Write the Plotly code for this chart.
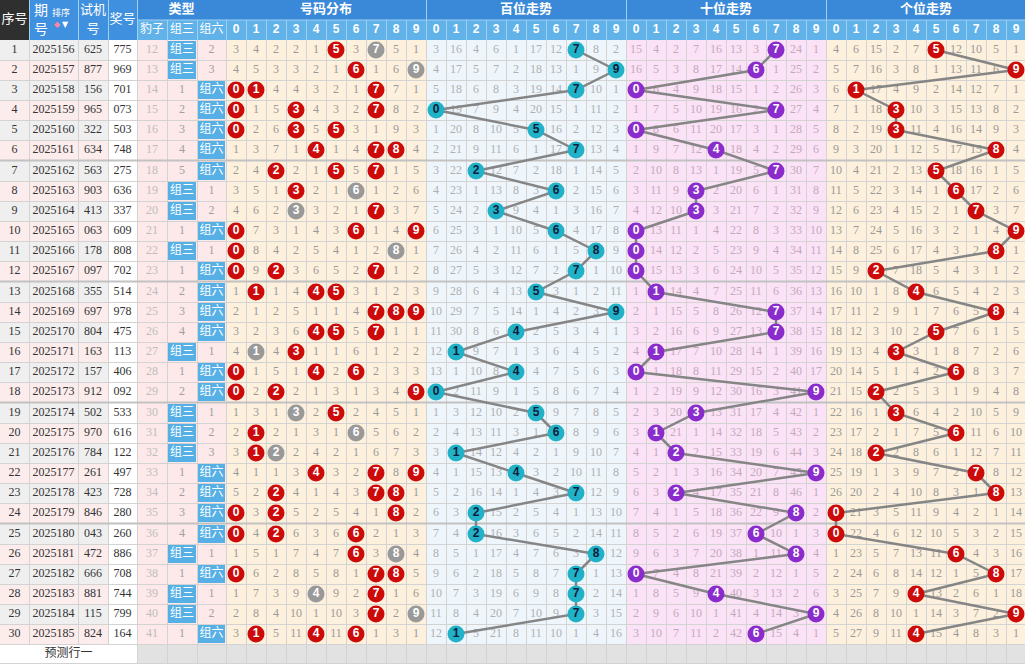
import plotly.graph_objects as go

# ---------------- data ----------------
row_no = list(range(1, 31))
periods = ["2025156", "2025157", "2025158", "2025159", "2025160", "2025161", "2025162", "2025163",
           "2025164", "2025165", "2025166", "2025167", "2025168", "2025169", "2025170", "2025171",
           "2025172", "2025173", "2025174", "2025175", "2025176", "2025177", "2025178", "2025179",
           "2025180", "2025181", "2025182", "2025183", "2025184", "2025185"]
test_nums = ["625", "877", "156", "965", "322", "634", "563", "903", "413", "063", "178", "097",
             "355", "697", "804", "163", "157", "912", "502", "970", "784", "261", "423", "846",
             "043", "472", "666", "881", "115", "824"]
draw_nums = ["775", "969", "701", "073", "503", "748", "275", "636", "337", "609", "808", "702",
             "514", "978", "475", "113", "406", "092", "533", "616", "122", "497", "728", "280",
             "260", "886", "708", "744", "799", "164"]
baozi_miss = [12, 13, 14, 15, 16, 17, 18, 19, 20, 21, 22, 23, 24, 25, 26, 27, 28, 29, 30, 31,
              32, 33, 34, 35, 36, 37, 38, 39, 40, 41]
# 0 = hit in that period
zusan_miss = [0, 0, 1, 2, 3, 4, 5, 0, 0, 1, 0, 1, 2, 3, 4, 0, 1, 2, 0, 0, 0, 1, 2, 3, 4, 0, 1, 0, 0, 1]
zuliu_miss = [2, 3, 0, 0, 0, 0, 0, 1, 2, 0, 1, 0, 0, 0, 0, 1, 0, 0, 1, 2, 3, 0, 0, 0, 0, 1, 0, 1, 2, 0]

dist_miss = [
    [3, 4, 2, 2, 1, 0, 3, 0, 5, 1], [4, 5, 3, 3, 2, 1, 0, 1, 6, 0], [0, 0, 4, 4, 3, 2, 1, 0, 7, 1],
    [0, 1, 5, 0, 4, 3, 2, 0, 8, 2], [0, 2, 6, 0, 5, 0, 3, 1, 9, 3], [1, 3, 7, 1, 0, 1, 4, 0, 0, 4],
    [2, 4, 0, 2, 1, 0, 5, 0, 1, 5], [3, 5, 1, 0, 2, 1, 0, 1, 2, 6], [4, 6, 2, 0, 3, 2, 1, 0, 3, 7],
    [0, 7, 3, 1, 4, 3, 0, 1, 4, 0], [0, 8, 4, 2, 5, 4, 1, 2, 0, 1], [0, 9, 0, 3, 6, 5, 2, 0, 1, 2],
    [1, 0, 1, 4, 0, 0, 3, 1, 2, 3], [2, 1, 2, 5, 1, 1, 4, 0, 0, 0], [3, 2, 3, 6, 0, 0, 5, 0, 1, 1],
    [4, 0, 4, 0, 1, 1, 6, 1, 2, 2], [0, 1, 5, 1, 0, 2, 0, 2, 3, 3], [0, 2, 0, 2, 1, 3, 1, 3, 4, 0],
    [1, 3, 1, 0, 2, 0, 2, 4, 5, 1], [2, 0, 2, 1, 3, 1, 0, 5, 6, 2], [3, 0, 0, 2, 4, 2, 1, 6, 7, 3],
    [4, 1, 1, 3, 0, 3, 2, 0, 8, 0], [5, 2, 0, 4, 1, 4, 3, 0, 0, 1], [0, 3, 0, 5, 2, 5, 4, 1, 0, 2],
    [0, 4, 0, 6, 3, 6, 0, 2, 1, 3], [1, 5, 1, 7, 4, 7, 0, 3, 0, 4], [0, 6, 2, 8, 5, 8, 1, 0, 0, 5],
    [1, 7, 3, 9, 0, 9, 2, 0, 1, 6], [2, 8, 4, 10, 1, 10, 3, 0, 2, 0], [3, 0, 5, 11, 0, 11, 0, 1, 3, 1],
]
bai_miss = [
    [3, 16, 4, 6, 1, 17, 12, 0, 8, 2], [4, 17, 5, 7, 2, 18, 13, 1, 9, 0], [5, 18, 6, 8, 3, 19, 14, 0, 10, 1],
    [0, 19, 7, 9, 4, 20, 15, 1, 11, 2], [1, 20, 8, 10, 5, 0, 16, 2, 12, 3], [2, 21, 9, 11, 6, 1, 17, 0, 13, 4],
    [3, 22, 0, 12, 7, 2, 18, 1, 14, 5], [4, 23, 1, 13, 8, 3, 0, 2, 15, 6], [5, 24, 2, 0, 9, 4, 1, 3, 16, 7],
    [6, 25, 3, 1, 10, 5, 0, 4, 17, 8], [7, 26, 4, 2, 11, 6, 1, 5, 0, 9], [8, 27, 5, 3, 12, 7, 2, 0, 1, 10],
    [9, 28, 6, 4, 13, 0, 3, 1, 2, 11], [10, 29, 7, 5, 14, 1, 4, 2, 3, 0], [11, 30, 8, 6, 0, 2, 5, 3, 4, 1],
    [12, 0, 9, 7, 1, 3, 6, 4, 5, 2], [13, 1, 10, 8, 0, 4, 7, 5, 6, 3], [0, 2, 11, 9, 1, 5, 8, 6, 7, 4],
    [1, 3, 12, 10, 2, 0, 9, 7, 8, 5], [2, 4, 13, 11, 3, 1, 0, 8, 9, 6], [3, 0, 14, 12, 4, 2, 1, 9, 10, 7],
    [4, 1, 15, 13, 0, 3, 2, 10, 11, 8], [5, 2, 16, 14, 1, 4, 3, 0, 12, 9], [6, 3, 0, 15, 2, 5, 4, 1, 13, 10],
    [7, 4, 0, 16, 3, 6, 5, 2, 14, 11], [8, 5, 1, 17, 4, 7, 6, 3, 0, 12], [9, 6, 2, 18, 5, 8, 7, 0, 1, 13],
    [10, 7, 3, 19, 6, 9, 8, 0, 2, 14], [11, 8, 4, 20, 7, 10, 9, 0, 3, 15], [12, 0, 5, 21, 8, 11, 10, 1, 4, 16],
]
shi_miss = [
    [15, 4, 2, 7, 16, 13, 3, 0, 24, 1], [16, 5, 3, 8, 17, 14, 0, 1, 25, 2], [0, 6, 4, 9, 18, 15, 1, 2, 26, 3],
    [1, 7, 5, 10, 19, 16, 2, 0, 27, 4], [0, 8, 6, 11, 20, 17, 3, 1, 28, 5], [1, 9, 7, 12, 0, 18, 4, 2, 29, 6],
    [2, 10, 8, 13, 1, 19, 5, 0, 30, 7], [3, 11, 9, 0, 2, 20, 6, 1, 31, 8], [4, 12, 10, 0, 3, 21, 7, 2, 32, 9],
    [0, 13, 11, 1, 4, 22, 8, 3, 33, 10], [0, 14, 12, 2, 5, 23, 9, 4, 34, 11], [0, 15, 13, 3, 6, 24, 10, 5, 35, 12],
    [1, 0, 14, 4, 7, 25, 11, 6, 36, 13], [2, 1, 15, 5, 8, 26, 12, 0, 37, 14], [3, 2, 16, 6, 9, 27, 13, 0, 38, 15],
    [4, 0, 17, 7, 10, 28, 14, 1, 39, 16], [0, 1, 18, 8, 11, 29, 15, 2, 40, 17], [1, 2, 19, 9, 12, 30, 16, 3, 41, 0],
    [2, 3, 20, 0, 13, 31, 17, 4, 42, 1], [3, 0, 21, 1, 14, 32, 18, 5, 43, 2], [4, 1, 0, 2, 15, 33, 19, 6, 44, 3],
    [5, 2, 1, 3, 16, 34, 20, 7, 45, 0], [6, 3, 0, 4, 17, 35, 21, 8, 46, 1], [7, 4, 1, 5, 18, 36, 22, 9, 0, 2],
    [8, 5, 2, 6, 19, 37, 0, 10, 1, 3], [9, 6, 3, 7, 20, 38, 1, 11, 0, 4], [0, 7, 4, 8, 21, 39, 2, 12, 1, 5],
    [1, 8, 5, 9, 0, 40, 3, 13, 2, 6], [2, 9, 6, 10, 1, 41, 4, 14, 3, 0], [3, 10, 7, 11, 2, 42, 0, 15, 4, 1],
]
ge_miss = [
    [4, 6, 15, 2, 7, 0, 12, 10, 5, 1], [5, 7, 16, 3, 8, 1, 13, 11, 6, 0], [6, 0, 17, 4, 9, 2, 14, 12, 7, 1],
    [7, 1, 18, 0, 10, 3, 15, 13, 8, 2], [8, 2, 19, 0, 11, 4, 16, 14, 9, 3], [9, 3, 20, 1, 12, 5, 17, 15, 0, 4],
    [10, 4, 21, 2, 13, 0, 18, 16, 1, 5], [11, 5, 22, 3, 14, 1, 0, 17, 2, 6], [12, 6, 23, 4, 15, 2, 1, 0, 3, 7],
    [13, 7, 24, 5, 16, 3, 2, 1, 4, 0], [14, 8, 25, 6, 17, 4, 3, 2, 0, 1], [15, 9, 0, 7, 18, 5, 4, 3, 1, 2],
    [16, 10, 1, 8, 0, 6, 5, 4, 2, 3], [17, 11, 2, 9, 1, 7, 6, 5, 0, 4], [18, 12, 3, 10, 2, 0, 7, 6, 1, 5],
    [19, 13, 4, 0, 3, 1, 8, 7, 2, 6], [20, 14, 5, 1, 4, 2, 0, 8, 3, 7], [21, 15, 0, 2, 5, 3, 1, 9, 4, 8],
    [22, 16, 1, 0, 6, 4, 2, 10, 5, 9], [23, 17, 2, 1, 7, 5, 0, 11, 6, 10], [24, 18, 0, 2, 8, 6, 1, 12, 7, 11],
    [25, 19, 1, 3, 9, 7, 2, 0, 8, 12], [26, 20, 2, 4, 10, 8, 3, 1, 0, 13], [0, 21, 3, 5, 11, 9, 4, 2, 1, 14],
    [0, 22, 4, 6, 12, 10, 5, 3, 2, 15], [1, 23, 5, 7, 13, 11, 0, 4, 3, 16], [2, 24, 6, 8, 14, 12, 1, 5, 0, 17],
    [3, 25, 7, 9, 0, 13, 2, 6, 1, 18], [4, 26, 8, 10, 1, 14, 3, 7, 2, 0], [5, 27, 9, 11, 0, 15, 4, 8, 3, 1],
]
digit_labels = ["0", "1", "2", "3", "4", "5", "6", "7", "8", "9"]
section_titles = ["号码分布", "百位走势", "十位走势", "个位走势"]
type_labels = ["豹子", "组三", "组六"]
predict_label = "预测行一"

# ---------------- geometry ----------------
FW, FH = 1025, 664
LEFT = [0, 29, 78, 108, 137, 167, 197, 226]
CW = 20
N = len(periods)


def row_top(i):
    return 40 + i * 20 + i // 6


def row_mid(i):
    return row_top(i) + 10


def lmid(k):
    return (LEFT[k] + LEFT[k + 1]) / 2


def dmid(sec, d):
    return 226 + (sec * 10 + d) * CW + CW / 2


BODY_B = row_top(N - 1) + 20

CJK = "Noto Sans CJK SC"
NUMF = "Liberation Serif, Noto Sans CJK SC"
BOLDF = "Liberation Sans, Arial"

shapes = []


def rect(x0, y0, x1, y1, fill):
    shapes.append(dict(type="rect", xref="x", yref="y", x0=x0, y0=y0, x1=x1, y1=y1,
                       fillcolor=fill, line=dict(width=0), layer="below"))


# body backgrounds
for i in range(N):
    t = row_top(i)
    alt = "#efefef" if i % 2 == 0 else "#fcecec"
    rect(0, t, 108, t + 21, alt)
    rect(108, t, 137, t + 21, "#ffffff")
rect(137, 40, 226, BODY_B, "#fde9e9")
rect(226, 40, 426, BODY_B, "#fdf0dc")
rect(426, 40, 626, BODY_B, "#eef6fc")
rect(626, 40, 826, BODY_B, "#fbe2f6")
rect(826, 40, FW, BODY_B, "#fdf0dc")
# prediction row
rect(0, BODY_B, 137, FH, "#ffffff")
rect(137, BODY_B, FW, FH, "#e2e2e2")
# header
rect(0, 0, 29, 40, "#2f2f2f")
rect(29, 0, 137, 40, "#3f90de")
rect(137, 0, FW, 20, "#3a89d8")
rect(137, 20, FW, 40, "#62b2ea")
# group highlight cells
for i in range(N):
    t = row_top(i)
    if zusan_miss[i] == 0:
        rect(168, t + 1, 196, t + 19, "#56b0e6")
    if zuliu_miss[i] == 0:
        rect(198, t + 1, 225, t + 19, "#56b0e6")

traces = []

# grid lines (body)
gx, gy = [], []
for x in LEFT[1:4]:
    gx += [x + 0.5, x + 0.5, None]
    gy += [40, BODY_B, None]
vedges = LEFT[4:] + [226 + CW * k for k in range(1, 40)]
for x in vedges:
    gx += [x + 0.5, x + 0.5, None]
    gy += [40, FH, None]
for i in range(N):
    y = row_top(i) + 20 + 0.5
    gx += [0, FW, None]
    gy += [y, y, None]
gx += [0, FW, None]
gy += [FH - 0.5, FH - 0.5, None]
traces.append(go.Scatter(x=gx, y=gy, mode="lines", line=dict(color="#d3d3d3", width=1),
                         hoverinfo="skip", showlegend=False))
# header grid
hx, hy = [], []
for x in [29, 78, 108, 137, 426, 626, 826]:
    hx += [x + 0.5, x + 0.5, None]
    hy += [0, 40, None]
for x in [167, 197] + [226 + CW * k for k in range(0, 40)]:
    hx += [x + 0.5, x + 0.5, None]
    hy += [20, 40, None]
hx += [137, FW, None]
hy += [20, 20, None]
traces.append(go.Scatter(x=hx, y=hy, mode="lines", line=dict(color="#9fd0f2", width=1),
                         hoverinfo="skip", showlegend=False))
# block separators
sx, sy = [], []
for i in (6, 12, 18, 24):
    y = row_top(i) - 0.5
    sx += [0, FW, None]
    sy += [y, y, None]
traces.append(go.Scatter(x=sx, y=sy, mode="lines", line=dict(color="#c2c2c2", width=2),
                         hoverinfo="skip", showlegend=False))


def text_trace(xs, ys, texts, color, size=12, family=NUMF, weight="normal"):
    traces.append(go.Scatter(x=xs, y=ys, text=texts, mode="text", textposition="middle center",
                             textfont=dict(color=color, size=size, family=family, weight=weight),
                             hoverinfo="skip", showlegend=False))


ys = [row_mid(i) for i in range(N)]
text_trace([lmid(0)] * N, ys, [str(v) for v in row_no], "#333333")
text_trace([lmid(1)] * N, ys, periods, "#333333")
text_trace([lmid(2)] * N, ys, test_nums, "#333333")
text_trace([lmid(3)] * N, ys, draw_nums, "#333333")
text_trace([lmid(4)] * N, ys, [str(v) for v in baozi_miss], "#bdbdbd")

gx_, gy_, gt_ = [], [], []
hx_, hy_, ht_ = [], [], []
for i in range(N):
    for k, arr, lab in ((5, zusan_miss, "组三"), (6, zuliu_miss, "组六")):
        if arr[i] == 0:
            hx_.append(lmid(k)); hy_.append(ys[i]); ht_.append(lab)
        else:
            gx_.append(lmid(k)); gy_.append(ys[i]); gt_.append(str(arr[i]))
text_trace(gx_, gy_, gt_, "#a0a0a0")
text_trace(hx_, hy_, ht_, "#ffffff", size=12, family=CJK)

# omission numbers per section
sec_data = [dist_miss, bai_miss, shi_miss, ge_miss]
sec_txt_col = ["#9a9a9a", "#b0b0b0", "#c3aabb", "#9a9a9a"]
for s, mat in enumerate(sec_data):
    xs, yy, tt = [], [], []
    for i in range(N):
        for d in range(10):
            if mat[i][d] != 0:
                xs.append(dmid(s, d)); yy.append(ys[i]); tt.append(str(mat[i][d]))
    text_trace(xs, yy, tt, sec_txt_col[s])

# trend lines for position sections
for s in (1, 2, 3):
    mat = sec_data[s]
    lx, ly = [], []
    for i in range(N):
        d = mat[i].index(0)
        lx.append(dmid(s, d)); ly.append(ys[i])
    traces.append(go.Scatter(x=lx, y=ly, mode="lines", line=dict(color="#858585", width=2.5),
                             hoverinfo="skip", showlegend=False))


def ball_trace(xs, yy, tt, color, tcolor):
    traces.append(go.Scatter(x=xs, y=yy, text=tt, mode="markers+text", textposition="middle center",
                             marker=dict(size=17, color=color, line=dict(width=0)),
                             textfont=dict(color=tcolor, size=12, family=BOLDF, weight="bold"),
                             hoverinfo="skip", showlegend=False))


# distribution balls
rx, ry, rt, kx, ky, kt = [], [], [], [], [], []
for i in range(N):
    for d in range(10):
        if dist_miss[i][d] == 0:
            if draw_nums[i].count(str(d)) > 1:
                kx.append(dmid(0, d)); ky.append(ys[i]); kt.append(str(d))
            else:
                rx.append(dmid(0, d)); ry.append(ys[i]); rt.append(str(d))
ball_trace(rx, ry, rt, "#cc0a0a", "#ffffff")
ball_trace(kx, ky, kt, "#999999", "#ffffff")
ball_colors = {1: ("#22b2c8", "#0b1d3a"), 2: ("#8a2ccb", "#ffffff"), 3: ("#cc0a0a", "#ffffff")}
for s in (1, 2, 3):
    mat = sec_data[s]
    bx, by, bt = [], [], []
    for i in range(N):
        d = mat[i].index(0)
        bx.append(dmid(s, d)); by.append(ys[i]); bt.append(str(d))
    ball_trace(bx, by, bt, *ball_colors[s])

# header texts
text_trace([lmid(0)], [20], ["序号"], "#ffffff", size=13, family=CJK)
text_trace([41, 41], [11, 30], ["期", "号"], "#ffffff", size=14, family=CJK)
text_trace([61], [14], ["排序"], "#ffffff", size=9, family=CJK)
text_trace([57], [25], ["◆"], "#f48aa4", size=8, family="DejaVu Sans")
text_trace([65], [25], ["▼"], "#ffffff", size=8, family="DejaVu Sans")
text_trace([lmid(2), lmid(2)], [11, 30], ["试机", "号"], "#ffffff", size=13, family=CJK)
text_trace([lmid(3)], [20], ["奖号"], "#ffffff", size=13, family=CJK)
text_trace([181.5], [10], ["类型"], "#ffffff", size=13, family=CJK, weight="bold")
text_trace([326, 526, 726, 926], [10] * 4, section_titles, "#ffffff", size=13, family=CJK, weight="bold")
text_trace([lmid(4), lmid(5), lmid(6)], [30] * 3, type_labels, "#ffffff", size=12, family=CJK)
dx, dy, dt = [], [], []
for s in range(4):
    for d in range(10):
        dx.append(dmid(s, d)); dy.append(30); dt.append(digit_labels[d])
text_trace(dx, dy, dt, "#ffffff", size=12, family=BOLDF, weight="bold")
text_trace([68.5], [BODY_B + 10], [predict_label], "#333333", size=12, family=CJK)

fig = go.Figure(data=traces)
fig.update_layout(
    width=FW, height=FH, margin=dict(l=0, r=0, t=0, b=0, pad=0),
    paper_bgcolor="#ffffff", plot_bgcolor="#ffffff", showlegend=False,
    shapes=shapes,
    xaxis=dict(range=[0, FW], visible=False, fixedrange=True),
    yaxis=dict(range=[FH, 0], visible=False, fixedrange=True),
)
fig.write_html("out.html", config={"displayModeBar": False},
               post_script="document.body.style.margin='0';document.body.style.overflow='hidden';")
